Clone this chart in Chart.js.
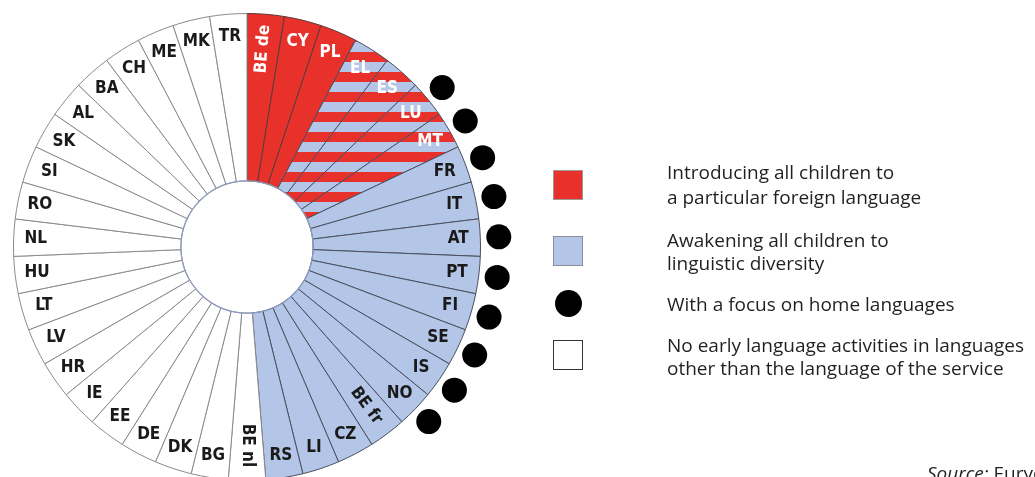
<!DOCTYPE html>
<html><head><meta charset="utf-8">
<script src="https://cdn.jsdelivr.net/npm/chart.js@4/dist/chart.umd.min.js"></script>
<style>
html,body{margin:0;padding:0;width:1035px;height:477px;overflow:hidden;background:#fff;}
#wrap{position:absolute;left:0;top:0;width:1035px;height:494px;}
.leg{position:absolute;left:667px;font-family:'Open Sans','Noto Sans',sans-serif;font-size:19px;line-height:24px;color:#231f20;white-space:nowrap;}
.sw{position:absolute;box-sizing:border-box;}
#src{position:absolute;left:927px;top:462px;font-family:'Open Sans','Noto Sans',sans-serif;font-size:19px;line-height:22px;color:#231f20;white-space:nowrap;}
</style></head><body>
<div id="wrap"><canvas id="c"></canvas></div>
<div id="legend"></div>
<div id="src"><i>Source:</i> Eurydice.</div>
<script>
// ---- data ----
const countries = ['BE de','CY','PL','EL','ES','LU','MT','FR','IT','AT','PT','FI','SE','IS','NO','BE fr','CZ','LI','RS',
  'BE nl','BG','DK','DE','EE','IE','HR','LV','LT','HU','NL','RO','SI','SK','AL','BA','CH','ME','MK','TR'];
// F = particular foreign language, FA = both, A = awakening to linguistic diversity, N = none
const approach = ['F','F','F','FA','FA','FA','FA','A','A','A','A','A','A','A','A','A','A','A','A',
  'N','N','N','N','N','N','N','N','N','N','N','N','N','N','N','N','N','N','N','N'];
const homeLanguageFocus = [0,0,0,0,0,1,1,1,1,1,1,1,1,1,1,0,0,0,0,
  0,0,0,0,0,0,0,0,0,0,0,0,0,0,0,0,0,0,0,0];
const segmentShare = [1,1,1,1,1,1,1,1,1,1,1,1,1,1,1,1,1,1,1,1,1,1,1,1,1,1,1,1,1,1,1,1,1,1,1,1,1,1,1];
const legendLabels = [
  ['Introducing all children to','a particular foreign language'],
  ['Awakening all children to','linguistic diversity'],
  ['With a focus on home languages'],
  ['No early language activities in languages','other than the language of the service']
];

// ---- styles ----
const RED = '#e8312a', BLUE = '#b3c6e7';
const ctx0 = document.getElementById('c').getContext('2d');
const pc = document.createElement('canvas'); pc.width = 4; pc.height = 20;
const pg = pc.getContext('2d');
pg.fillStyle = RED; pg.fillRect(0,0,4,20);
pg.fillStyle = BLUE; pg.fillRect(0,2,4,10);
const STRIPES = ctx0.createPattern(pc,'repeat');
const fillFor = {F:RED, FA:STRIPES, A:BLUE, N:'#ffffff'};
const lineFor = {F:'#5a3a3a', FA:'#4a4f66', A:'#4a4f5e', N:'#8a8a8a'};

// legend
const legTops = [[160,185],[228,251],[292],[333,356]];
const swatches = [
  'left:553px;top:170px;width:30px;height:30px;background:'+RED+';border:1px solid #9a9a9a;',
  'left:553px;top:236px;width:30px;height:30px;background:'+BLUE+';border:1px solid #8a8f9a;',
  'left:555px;top:290px;width:27px;height:27px;background:#000;border-radius:50%;',
  'left:553px;top:340px;width:30px;height:30px;background:#fff;border:1px solid #333;'
];
const legEl = document.getElementById('legend');
legendLabels.forEach((lines,k)=>{
  const s = document.createElement('div'); s.className='sw'; s.style.cssText = swatches[k]; legEl.appendChild(s);
  lines.forEach((t,j)=>{
    const d = document.createElement('div'); d.className='leg'; d.style.top = legTops[k][j]+'px'; d.textContent = t; legEl.appendChild(d);
  });
});

const overlay = {
  id:'overlay',
  afterDatasetsDraw(chart){
    const ctx = chart.ctx; const meta = chart.getDatasetMeta(0);
    let cx=0, cy=0, ir=0;
    meta.data.forEach((arc,i)=>{
      const {x,y,startAngle,endAngle,outerRadius,innerRadius} = arc.getProps(['x','y','startAngle','endAngle','outerRadius','innerRadius'],true);
      cx=x; cy=y; ir=innerRadius;
      const a = (startAngle+endAngle)/2;
      ctx.save();
      ctx.font = 'bold 17px "Liberation Sans Narrow","DejaVu Sans Condensed",sans-serif';
      ctx.fillStyle = (approach[i]==='F'||approach[i]==='FA') ? '#ffffff' : '#1a1a1a';
      ctx.textAlign='center'; ctx.textBaseline='middle';
      const name = countries[i];
      if (name.indexOf(' ')>=0) {
        const r = outerRadius*0.85;
        ctx.translate(x+Math.cos(a)*r, y+Math.sin(a)*r); ctx.rotate(a); ctx.fillText(name,0,0);
      } else {
        const r = outerRadius-22;
        ctx.fillText(name, x+Math.cos(a)*r, y+Math.sin(a)*r);
      }
      ctx.restore();
      if (homeLanguageFocus[i]) {
        const r = outerRadius+18.5;
        ctx.beginPath(); ctx.arc(x+Math.cos(a)*r, y+Math.sin(a)*r, 12.5, 0, Math.PI*2);
        ctx.fillStyle='#000'; ctx.fill();
      }
    });
    ctx.save(); ctx.beginPath(); ctx.arc(cx,cy,ir,0,Math.PI*2); ctx.strokeStyle='#8d9cc0'; ctx.lineWidth=1.2; ctx.stroke(); ctx.restore();
  }
};

new Chart(document.getElementById('c'), {
  type:'doughnut',
  data:{
    labels: countries,
    datasets:[{
      data: segmentShare,
      backgroundColor: approach.map(k=>fillFor[k]),
      borderColor: approach.map(k=>lineFor[k]),
      borderWidth: 1
    }]
  },
  options:{
    responsive:true, maintainAspectRatio:false, animation:false,
    radius: 233.5, cutout:'28.3%',
    layout:{padding:{left:0,right:541,top:0,bottom:0}},
    plugins:{legend:{display:false}, tooltip:{enabled:false}}
  },
  plugins:[overlay]
});
</script>
</body></html>
